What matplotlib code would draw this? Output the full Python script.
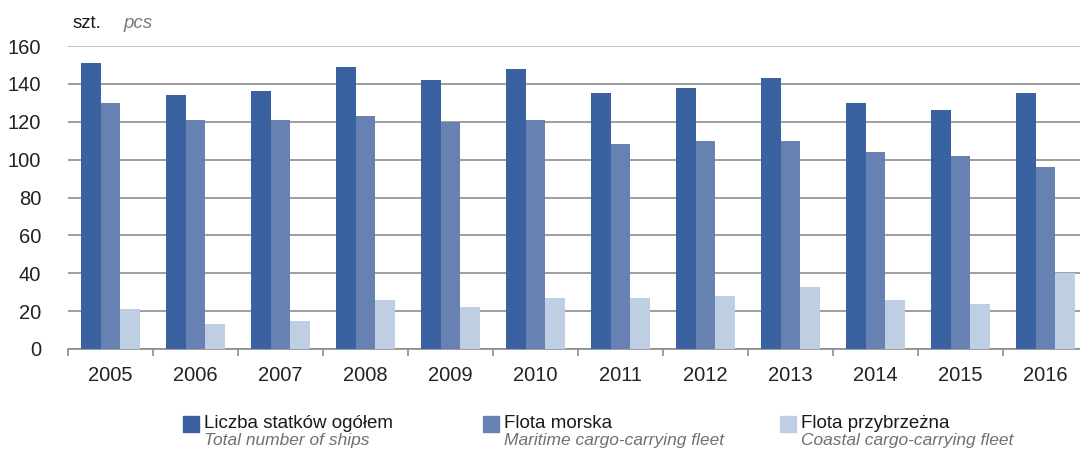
import matplotlib
matplotlib.use("Agg")
import matplotlib.pyplot as plt
from matplotlib.patches import Rectangle
import numpy as np

years = ["2005", "2006", "2007", "2008", "2009", "2010",
         "2011", "2012", "2013", "2014", "2015", "2016"]
total_ships = [151, 134, 136, 149, 142, 148, 135, 138, 143, 130, 126, 135]
maritime_fleet = [130, 121, 121, 123, 120, 121, 108, 110, 110, 104, 102, 96]
coastal_fleet = [21, 13, 15, 26, 22, 27, 27, 28, 33, 26, 24, 40]

labels_pl = ["Liczba statków ogółem", "Flota morska", "Flota przybrzeżna"]
labels_en = ["Total number of ships", "Maritime cargo-carrying fleet",
             "Coastal cargo-carrying fleet"]
colors = ["#3A62A0", "#6782B2", "#BECFE4"]
yticks = [0, 20, 40, 60, 80, 100, 120, 140, 160]

plt.rcParams["font.family"] = ["Liberation Sans", "DejaVu Sans"]

W, H = 1080, 453
PX = 0.72  # points per pixel at 100 dpi
fig = plt.figure(figsize=(W / 100, H / 100), dpi=100)

# plot area in pixel units: left edge 68, one category = 85 px
left, bottom_px, top_px = 68, 349, 46
ax = fig.add_axes([left / W, (H - bottom_px) / H,
                   (85 * 12) / W, (bottom_px - top_px) / H])

x = np.arange(len(years))
bw = 0.23
series = [total_ships, maritime_fleet, coastal_fleet]
for i, (vals, c) in enumerate(zip(series, colors)):
    ax.bar(x + (i - 1) * bw, vals, width=bw, color=c, zorder=3, linewidth=0)

ax.set_xlim(-0.5, len(years) - 0.5)
ax.set_ylim(0, 160)
ax.set_yticks(yticks)
ax.set_yticklabels([str(v) for v in yticks], fontsize=14.5, color="#222222")
ax.tick_params(axis="y", length=0, pad=27 * PX)

# category labels at centres, tick marks at boundaries
ax.set_xticks(x)
ax.set_xticklabels(years, fontsize=14.5, color="#222222")
ax.tick_params(axis="x", which="major", length=0, pad=17 * PX)
ax.set_xticks(np.arange(-0.5, len(years), 1.0), minor=True)
ax.tick_params(axis="x", which="minor", length=7 * PX, width=1.2,
               color="#8c8c8c")

ax.yaxis.grid(True, color="#969696", linewidth=1.3, zorder=0)
ax.get_ygridlines()[-1].set_color("#bdbdbd")
ax.set_axisbelow(True)
for s in ["top", "right", "left"]:
    ax.spines[s].set_visible(False)
ax.spines["bottom"].set_color("#8c8c8c")
ax.spines["bottom"].set_linewidth(1.2)

# unit label
fig.text(73 / W, 1 - 23 / H, "szt.", fontsize=13.5, color="#1a1a1a",
         va="center", ha="left")
fig.text(123 / W, 1 - 23 / H, "pcs", fontsize=13.5, color="#7a7a7a",
         style="italic", va="center", ha="left")

# legend
legend_x = [183, 483, 780]
for lx, c, lp, le in zip(legend_x, colors, labels_pl, labels_en):
    fig.patches.append(Rectangle((lx / W, 1 - 432 / H), 16 / W, 16 / H,
                                 transform=fig.transFigure, color=c))
    fig.text((lx + 21) / W, 1 - 423 / H, lp, fontsize=13.5, color="#1a1a1a",
             va="center", ha="left")
    fig.text((lx + 21) / W, 1 - 441 / H, le, fontsize=12.5, color="#707070",
             style="italic", va="center", ha="left")

fig.savefig("out.png", dpi=100)
